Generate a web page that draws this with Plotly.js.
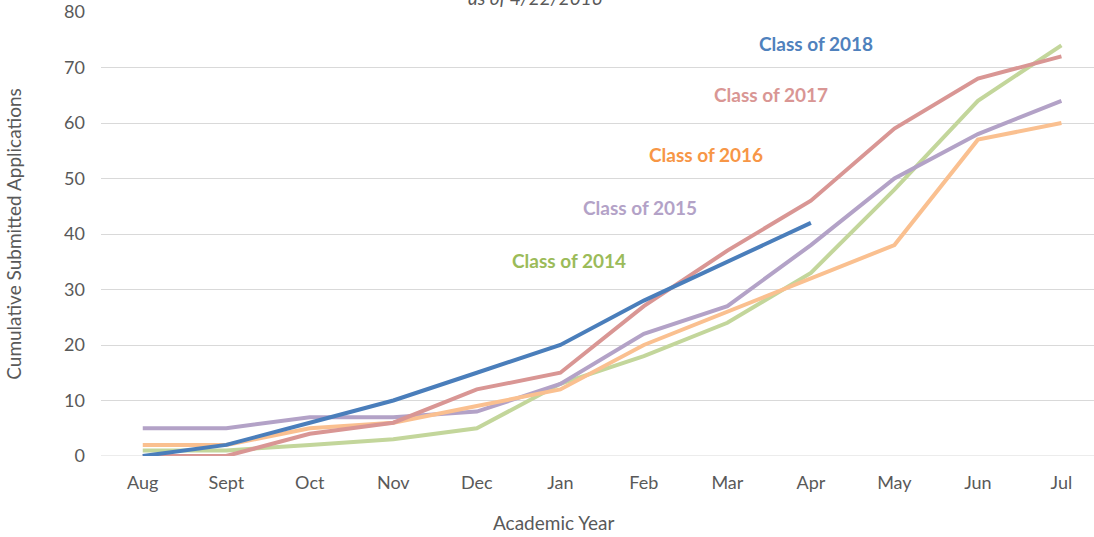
<!DOCTYPE html>
<html>
<head>
<meta charset="utf-8">
<script src="https://cdn.plot.ly/plotly-3.0.1.min.js"></script>
<style>html,body{margin:0;padding:0;background:#fff;}#chart{width:1094px;height:537px;}</style>
</head>
<body>
<div id="chart"></div>
<script>
const months = ["Aug","Sept","Oct","Nov","Dec","Jan","Feb","Mar","Apr","May","Jun","Jul"];
const class2014 = [1,1,2,3,5,13,18,24,33,48,64,74];
const class2015 = [5,5,7,7,8,13,22,27,38,50,58,64];
const class2016 = [2,2,5,6,9,12,20,26,32,38,57,60];
const class2017 = [0,0,4,6,12,15,27,37,46,59,68,72];
const class2018 = [0,2,6,10,15,20,28,35,42];
const seriesNames = ["Class of 2014","Class of 2015","Class of 2016","Class of 2017","Class of 2018"];
const titleText = "as of 4/22/2016";
const xTitle = "Academic Year";
const yTitle = "Cumulative Submitted Applications";

const lineColors = ["#c3d69b","#b3a2c7","#fac090","#d99694","#4a7ebb"];
const labelColors = ["#9bbb59","#b3a2c7","#f79646","#d99694","#4f81bd"];
const values = [class2014,class2015,class2016,class2017,class2018];
const FONT = "Lato, Carlito, sans-serif";

const traces = values.map((v,i)=>({
  x: months.slice(0, v.length),
  y: v,
  type: "scatter",
  mode: "lines",
  name: seriesNames[i],
  line: {color: lineColors[i], width: 4},
  hoverinfo: "skip"
}));

// label anchor positions (category index, value)
const labelPos = [[5.10,35.3],[5.95,44.7],[6.74,54.4],[7.52,65.2],[8.06,74.4]];
const annotations = seriesNames.map((n,i)=>({
  x: labelPos[i][0], y: labelPos[i][1], xref: "x", yref: "y",
  text: "<b>"+n+"</b>", showarrow: false,
  font: {family: FONT, size: 19, color: labelColors[i]},
  xanchor: "center", yanchor: "middle"
}));
annotations.push({
  x: 0.4375, y: 1, xref: "paper", yref: "paper", yshift: 15,
  text: "<i>"+titleText+"</i>", showarrow: false,
  font: {family: FONT, size: 19, color: "#595959"},
  xanchor: "center", yanchor: "middle"
});
annotations.push({
  x: 0.456, y: 0, xref: "paper", yref: "paper", yshift: -66,
  text: xTitle, showarrow: false,
  font: {family: FONT, size: 19, color: "#595959"},
  xanchor: "center", yanchor: "middle"
});

const layout = {
  width: 1094, height: 537,
  margin: {l: 101, r: 0, t: 12, b: 81},
  paper_bgcolor: "#fff", plot_bgcolor: "#fff",
  showlegend: false,
  font: {family: FONT, color: "#595959", size: 18},
  xaxis: {
    type: "category",
    range: [-0.5, 11.39],
    showgrid: false, zeroline: false,
    showline: false, ticks: "",
    tickfont: {size: 18, color: "#595959"},
    ticklabelstandoff: 14
  },
  yaxis: {
    range: [0, 80], dtick: 10,
    showgrid: true, gridcolor: "#d9d9d9", gridwidth: 1,
    zeroline: false, showline: false, ticks: "",
    tickfont: {size: 18, color: "#595959"},
    ticklabelstandoff: 15,
    title: {text: yTitle, font: {size: 19, color: "#595959"}, standoff: 37}
  },
  annotations: annotations
};
layout.shapes = [{type:"line", xref:"paper", yref:"y", x0:0, x1:1, y0:0, y1:0, line:{color:"#d9d9d9", width:1}, layer:"below"}];

Plotly.newPlot("chart", traces, layout, {displayModeBar: false, staticPlot: true});
</script>
</body>
</html>
